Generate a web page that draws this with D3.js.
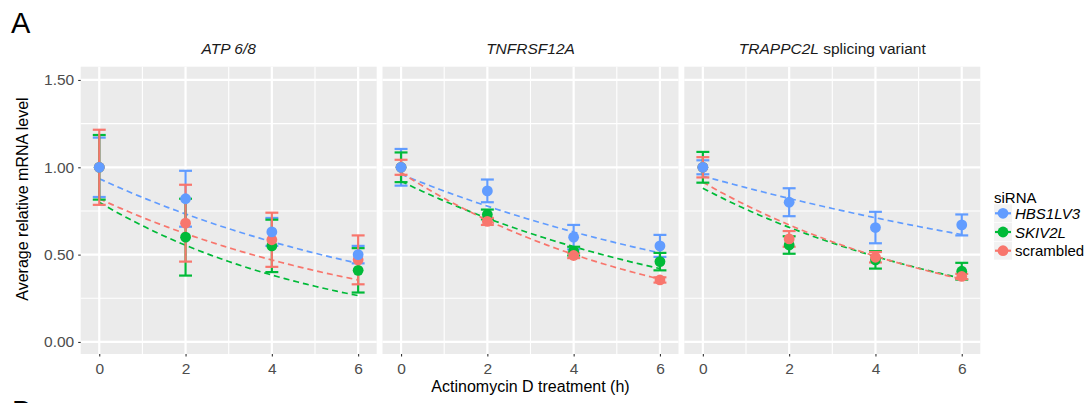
<!DOCTYPE html>
<html>
<head>
<meta charset="utf-8">
<script src="https://cdn.jsdelivr.net/npm/d3@7"></script>
<style>
  html, body { margin: 0; padding: 0; background: #fff; }
  svg { display: block; font-family: "Liberation Sans", Arial, Helvetica, sans-serif; }
</style>
</head>
<body>
<svg id="chart" width="1089" height="403"></svg>
<script>
// Time points (hours of actinomycin D treatment)
const times = [0, 2, 4, 6];
const xTicks = [0, 2, 4, 6];
const yTicks = [0, 0.5, 1.0, 1.5];
const yMinor = [0.25, 0.75, 1.25];
const xMinor = [1, 3, 5];

// Facets and siRNA groups
const genes = ["ATP 6/8", "TNFRSF12A", "TRAPPC2L"];
const groups = ["HBS1LV3", "SKIV2L", "scrambled"];
const groupColors = ["#619CFF", "#00BA38", "#F8766D"];

// Mean relative mRNA level, rows = HBS1LV3, SKIV2L, scrambled
const atpMean = [[1.00, 0.82, 0.63, 0.50], [1.00, 0.60, 0.55, 0.41], [1.00, 0.68, 0.585, 0.47]];
const atpErr  = [[0.17, 0.16, 0.08, 0.05], [0.185, 0.22, 0.15, 0.127], [0.215, 0.22, 0.155, 0.14]];
const tnfMean = [[1.00, 0.865, 0.60, 0.55], [1.00, 0.73, 0.52, 0.46], [1.00, 0.69, 0.495, 0.355]];
const tnfErr  = [[0.105, 0.065, 0.07, 0.063], [0.085, 0.028, 0.025, 0.05], [0.043, 0.02, 0.015, 0.015]];
const trpMean = [[1.00, 0.80, 0.655, 0.67], [1.00, 0.555, 0.47, 0.405], [1.00, 0.59, 0.485, 0.375]];
const trpErr  = [[0.04, 0.08, 0.09, 0.06], [0.088, 0.05, 0.05, 0.048], [0.058, 0.045, 0.03, 0.015]];

// Exponential decay fits y = a * exp(-k t), rows as above
const atpFitA = [0.935, 0.80, 0.82];
const atpFitK = [0.1219, 0.184, 0.1395];
const tnfFitA = [0.96, 0.92, 0.97];
const tnfFitK = [0.1054, 0.1307, 0.1652];
const trpFitA = [0.95, 0.88, 0.915];
const trpFitK = [0.0725, 0.1467, 0.1555];

const panels = [
  { mean: atpMean, err: atpErr, fitA: atpFitA, fitK: atpFitK },
  { mean: tnfMean, err: tnfErr, fitA: tnfFitA, fitK: tnfFitK },
  { mean: trpMean, err: trpErr, fitA: trpFitA, fitK: trpFitK }
];

const svg = d3.select("#chart");
const panelLeft = 80.7, panelStep = 301.8, panelW = 296;
const panelTop = 66.7, panelH = 287.3;
const tickColor = "#333333", labelColor = "#4D4D4D";
const fontTick = 15.5, fontTitle = 16;

const y = d3.scaleLinear().domain([-0.069, 1.576]).range([panelTop + panelH, panelTop]);

// Panel letter
svg.append("text").attr("x", 11).attr("y", 33).attr("font-size", 29).attr("fill", "#000").text("A");
svg.append("text").attr("x", 12).attr("y", 421).attr("font-size", 29).attr("fill", "#000").text("B");

panels.forEach((p, pi) => {
  const left = panelLeft + pi * panelStep;
  const x = d3.scaleLinear().domain([-0.43, 6.43]).range([left, left + panelW]);
  const g = svg.append("g");

  g.append("rect").attr("x", left).attr("y", panelTop).attr("width", panelW).attr("height", panelH).attr("fill", "#EBEBEB");

  // grid
  g.selectAll(".ymin").data(yMinor).join("line")
    .attr("x1", left).attr("x2", left + panelW).attr("y1", d => y(d)).attr("y2", d => y(d))
    .attr("stroke", "#fff").attr("stroke-width", 1.1);
  g.selectAll(".xmin").data(xMinor).join("line")
    .attr("y1", panelTop).attr("y2", panelTop + panelH).attr("x1", d => x(d)).attr("x2", d => x(d))
    .attr("stroke", "#fff").attr("stroke-width", 1.1);
  g.selectAll(".ymaj").data(yTicks).join("line")
    .attr("x1", left).attr("x2", left + panelW).attr("y1", d => y(d)).attr("y2", d => y(d))
    .attr("stroke", "#fff").attr("stroke-width", 2.2);
  g.selectAll(".xmaj").data(xTicks).join("line")
    .attr("y1", panelTop).attr("y2", panelTop + panelH).attr("x1", d => x(d)).attr("x2", d => x(d))
    .attr("stroke", "#fff").attr("stroke-width", 2.2);

  // x axis
  const xAxis = d3.axisBottom(x).tickValues(xTicks).tickSize(2.5).tickPadding(6).tickFormat(d3.format("d"));
  const xa = g.append("g").attr("transform", `translate(0,${panelTop + panelH})`).call(xAxis);
  xa.select(".domain").remove();
  xa.selectAll(".tick line").attr("stroke", tickColor).attr("stroke-width", 1.1);
  xa.selectAll(".tick text").attr("font-size", fontTick).attr("fill", labelColor)
    .attr("font-family", "Liberation Sans, Arial, sans-serif");

  if (pi === 0) {
    const yAxis = d3.axisLeft(y).tickValues(yTicks).tickSize(2.5).tickPadding(4).tickFormat(d3.format(".2f"));
    const ya = g.append("g").attr("transform", `translate(${left},0)`).call(yAxis);
    ya.select(".domain").remove();
    ya.selectAll(".tick line").attr("stroke", tickColor).attr("stroke-width", 1.1);
    ya.selectAll(".tick text").attr("font-size", fontTick).attr("fill", labelColor)
      .attr("font-family", "Liberation Sans, Arial, sans-serif");
  }

  // facet title
  const strip = g.append("text").attr("x", left + panelW / 2).attr("y", 54)
    .attr("text-anchor", "middle").attr("font-size", fontTick).attr("fill", "#1A1A1A");
  if (pi === 2) {
    strip.append("tspan").attr("font-style", "italic").text(genes[pi]);
    strip.append("tspan").text(" splicing variant");
  } else {
    strip.attr("font-style", "italic").text(genes[pi]);
  }

  // fitted decay curves
  const tFine = d3.range(0, 6.001, 0.1);
  const line = d3.line().x(d => x(d[0])).y(d => y(d[1]));
  groups.forEach((grp, gi) => {
    const pts = tFine.map(t => [t, p.fitA[gi] * Math.exp(-p.fitK[gi] * t)]);
    g.append("path").attr("d", line(pts)).attr("fill", "none")
      .attr("stroke", groupColors[gi]).attr("stroke-width", 1.7).attr("stroke-dasharray", "6,4");
  });

  // error bars
  const capHalf = 0.15;
  [0, 1, 2].forEach(gi => {
    const col = groupColors[gi];
    times.forEach((t, ti) => {
      const m = p.mean[gi][ti], e = p.err[gi][ti];
      g.append("line").attr("x1", x(t)).attr("x2", x(t)).attr("y1", y(m - e)).attr("y2", y(m + e))
        .attr("stroke", col).attr("stroke-width", 2.2);
      [m - e, m + e].forEach(v => {
        g.append("line").attr("x1", x(t - capHalf)).attr("x2", x(t + capHalf)).attr("y1", y(v)).attr("y2", y(v))
          .attr("stroke", col).attr("stroke-width", 2.2);
      });
    });
  });

  // points (HBS1LV3 drawn last)
  [1, 2, 0].forEach(gi => {
    g.selectAll(null).data(times).join("circle")
      .attr("cx", d => x(d)).attr("cy", (d, ti) => y(p.mean[gi][ti])).attr("r", 5.4)
      .attr("fill", groupColors[gi]);
  });
});

// axis titles
svg.append("text").attr("x", panelLeft + (2 * panelStep + panelW) / 2).attr("y", 392)
  .attr("text-anchor", "middle").attr("font-size", fontTitle).attr("fill", "#000").text("Actinomycin D treatment (h)");
svg.append("text").attr("transform", "translate(28,199) rotate(-90)")
  .attr("text-anchor", "middle").attr("font-size", fontTitle).attr("fill", "#000").text("Average relative mRNA level");

// legend
const leg = svg.append("g");
leg.append("text").attr("x", 994).attr("y", 203).attr("font-size", 15).attr("fill", "#000").text("siRNA");
groups.forEach((grp, gi) => {
  const cy = 213.3 + gi * 18.7;
  leg.append("rect").attr("x", 994).attr("y", cy - 9).attr("width", 18).attr("height", 18).attr("fill", "#F2F2F2");
  leg.append("line").attr("x1", 995).attr("x2", 1011).attr("y1", cy).attr("y2", cy)
    .attr("stroke", groupColors[gi]).attr("stroke-width", 2.2);
  leg.append("circle").attr("cx", 1003).attr("cy", cy).attr("r", 5.4).attr("fill", groupColors[gi]);
  leg.append("text").attr("x", 1015).attr("y", cy + 5.5).attr("font-size", 15).attr("fill", "#000")
    .attr("font-style", gi < 2 ? "italic" : "normal").text(grp);
});
</script>
</body>
</html>
